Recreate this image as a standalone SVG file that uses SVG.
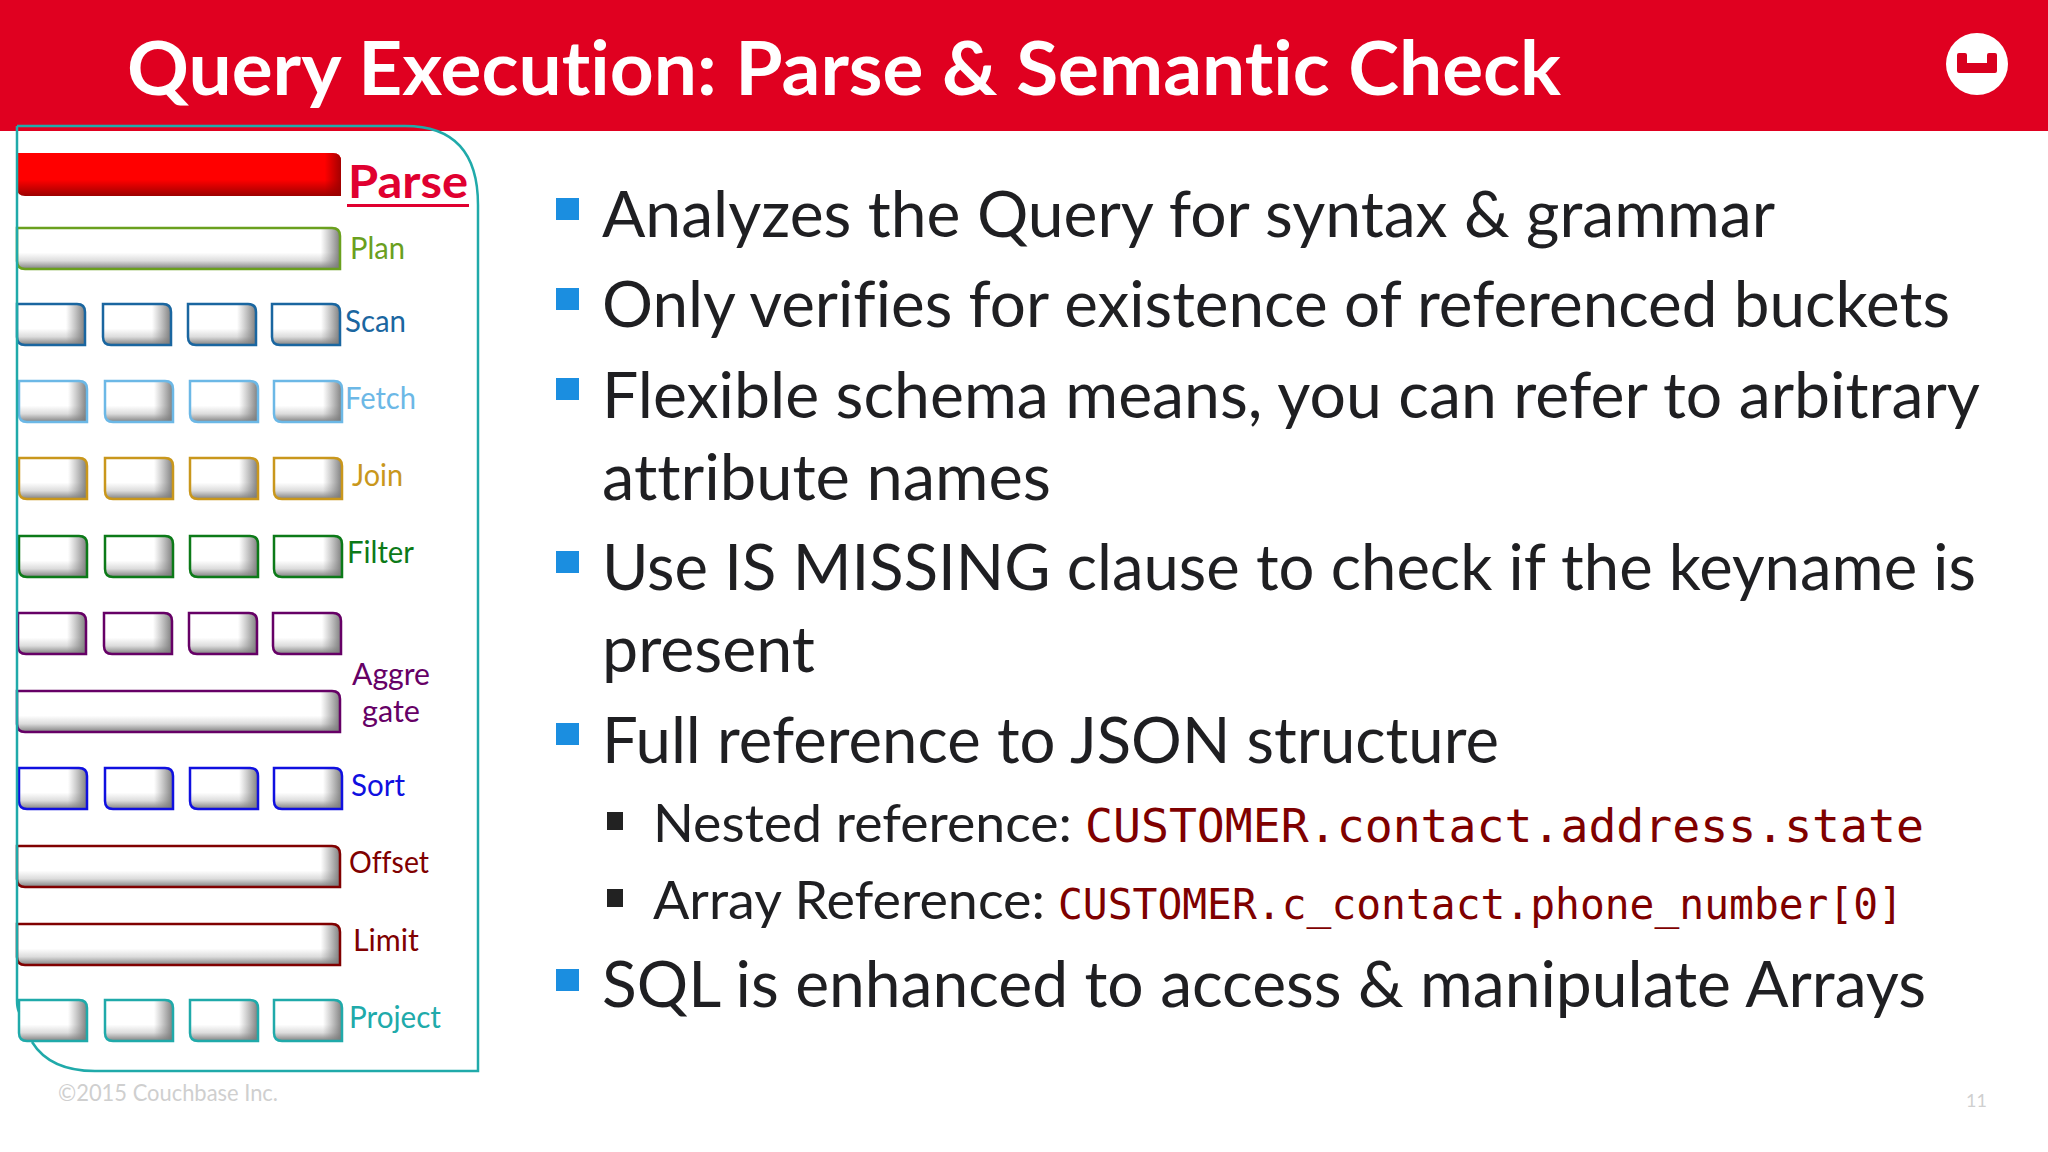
<svg xmlns="http://www.w3.org/2000/svg" width="2048" height="1152" viewBox="0 0 2048 1152">
<style>
text{font-variant-ligatures:none}
.b{font-family:Lato,"Open Sans",sans-serif;font-size:63px;fill:#1f1f22}
.s{font-family:Lato,"Open Sans",sans-serif;font-size:52px;fill:#1f1f22}
.m{font-family:"DejaVu Sans Mono","Liberation Mono",monospace;fill:#7f0000}
.l{font-family:Lato,"Open Sans",sans-serif;font-size:30px}
.bu{fill:#1b8ee0}
.sb{fill:#222}
.o{fill:none;stroke:currentColor;stroke-width:2.5}
</style>
<defs>
<linearGradient id="v" x1="0" y1="0" x2="0" y2="1"><stop offset="0" stop-color="#fff"/><stop offset=".6" stop-color="#fff"/><stop offset=".8" stop-color="#dcdcdc"/><stop offset="1" stop-color="#808080"/></linearGradient>
<linearGradient id="hs" x1="0" y1="0" x2="1" y2="0"><stop offset=".72" stop-color="#888" stop-opacity="0"/><stop offset="1" stop-color="#777" stop-opacity=".95"/></linearGradient>
<linearGradient id="hl" x1="0" y1="0" x2="1" y2="0"><stop offset=".94" stop-color="#888" stop-opacity="0"/><stop offset="1" stop-color="#777" stop-opacity=".95"/></linearGradient>
<linearGradient id="rv" x1="0" y1="0" x2="0" y2="1"><stop offset="0" stop-color="#f00"/><stop offset=".62" stop-color="#f00"/><stop offset="1" stop-color="#9c0000"/></linearGradient>
<linearGradient id="rh" x1="0" y1="0" x2="1" y2="0"><stop offset=".95" stop-color="#900" stop-opacity="0"/><stop offset="1" stop-color="#900" stop-opacity=".9"/></linearGradient>
<path id="ps" d="M0 0H60Q68 0 68 8V41H8Q0 41 0 33Z"/>
<path id="pl" d="M0 0H315Q323 0 323 8V41H8Q0 41 0 33Z"/>
<g id="small"><use href="#ps" fill="url(#v)"/><use href="#ps" fill="url(#hs)"/><use href="#ps" class="o"/></g>
<g id="long"><use href="#pl" fill="url(#v)"/><use href="#pl" fill="url(#hl)"/><use href="#pl" class="o"/></g>
</defs>
<rect width="2048" height="1152" fill="#fff"/>
<g id="header">
<rect width="2048" height="131" fill="#e00020"/>
<text x="127" y="95" font-family="Lato,'Open Sans',sans-serif" font-weight="700" font-size="75" fill="#fff" textLength="1434" lengthAdjust="spacingAndGlyphs">Query Execution: Parse &amp; Semantic Check</text>
<circle cx="1977" cy="64" r="31" fill="#fff"/>
<path d="M1959 53H1965Q1967 53 1967 55V63H1987V55Q1987 53 1989 53H1995Q1997 53 1997 55V71Q1997 73 1995 73H1959Q1957 73 1957 71V55Q1957 53 1959 53Z" fill="#d9001f"/>
</g>
<g id="connectors"/>
<g id="node-parse">
<path d="M17 153H333Q341 153 341 161V196H25Q17 196 17 188Z" fill="url(#rv)"/>
<path d="M17 153H333Q341 153 341 161V196H25Q17 196 17 188Z" fill="url(#rh)"/>
<text x="348" y="198" font-family="Lato,'Open Sans',sans-serif" font-weight="700" font-size="45" fill="#e00030" textLength="120" lengthAdjust="spacingAndGlyphs">Parse</text>
<rect x="347" y="204" width="122" height="3" fill="#e00030"/>
</g>
<g id="node-plan" color="#6aa01e"><use href="#long" x="17" y="228"/><text class="l" x="350" y="259" fill="#6aa01e" textLength="55" lengthAdjust="spacingAndGlyphs">Plan</text></g>
<g id="node-scan" color="#1a66a0"><use href="#small" x="17" y="304"/><use href="#small" x="103" y="304"/><use href="#small" x="188" y="304"/><use href="#small" x="272" y="304"/><text class="l" x="345" y="332" fill="#1a66a0" textLength="61" lengthAdjust="spacingAndGlyphs">Scan</text></g>
<g id="node-fetch" color="#6cb8e6"><use href="#small" x="19" y="381"/><use href="#small" x="105" y="381"/><use href="#small" x="190" y="381"/><use href="#small" x="274" y="381"/><text class="l" x="345" y="409" fill="#6cb8e6" textLength="71" lengthAdjust="spacingAndGlyphs">Fetch</text></g>
<g id="node-join" color="#c9971c"><use href="#small" x="19" y="458"/><use href="#small" x="105" y="458"/><use href="#small" x="190" y="458"/><use href="#small" x="274" y="458"/><text class="l" x="352" y="486" fill="#c9971c" textLength="51" lengthAdjust="spacingAndGlyphs">Join</text></g>
<g id="node-filter" color="#0c7a18"><use href="#small" x="19" y="536"/><use href="#small" x="105" y="536"/><use href="#small" x="190" y="536"/><use href="#small" x="274" y="536"/><text class="l" x="347" y="563" fill="#0c7a18" textLength="67" lengthAdjust="spacingAndGlyphs">Filter</text></g>
<g id="node-aggregate" color="#660066"><use href="#small" x="18" y="613"/><use href="#small" x="104" y="613"/><use href="#small" x="189" y="613"/><use href="#small" x="273" y="613"/><use href="#long" x="17" y="691"/><text class="l" x="352" y="685" fill="#660066" textLength="78" lengthAdjust="spacingAndGlyphs">Aggre</text><text class="l" x="362" y="722" fill="#660066" textLength="58" lengthAdjust="spacingAndGlyphs">gate</text></g>
<g id="node-sort" color="#1010e0"><use href="#small" x="19" y="768"/><use href="#small" x="105" y="768"/><use href="#small" x="190" y="768"/><use href="#small" x="274" y="768"/><text class="l" x="351" y="796" fill="#1010e0" textLength="54" lengthAdjust="spacingAndGlyphs">Sort</text></g>
<g id="node-offset" color="#800000"><use href="#long" x="17" y="846"/><text class="l" x="349" y="873" fill="#800000" textLength="80" lengthAdjust="spacingAndGlyphs">Offset</text></g>
<g id="node-limit" color="#800000"><use href="#long" x="17" y="924"/><text class="l" x="353" y="951" fill="#800000" textLength="66" lengthAdjust="spacingAndGlyphs">Limit</text></g>
<g id="node-project" color="#20aaaa"><use href="#small" x="19" y="1000"/><use href="#small" x="105" y="1000"/><use href="#small" x="190" y="1000"/><use href="#small" x="274" y="1000"/><text class="l" x="349" y="1028" fill="#20aaaa" textLength="92" lengthAdjust="spacingAndGlyphs">Project</text></g>
<g id="frame"><path d="M17 126H405Q478 126 478 205V1071H95Q50 1071 32 1042M17 1000V126" fill="none" stroke="#20aaaa" stroke-width="2.5"/><path d="M17 1000Q17 1008 19 1012" fill="none" stroke="#20aaaa" stroke-width="2.5"/></g>
<g id="bullets">
<rect class="bu" x="556" y="198" width="23" height="22"/><text class="b" x="602" y="237" textLength="1173" lengthAdjust="spacingAndGlyphs">Analyzes the Query for syntax &amp; grammar</text>
<rect class="bu" x="556" y="288" width="23" height="22"/><text class="b" x="602" y="327" textLength="1348" lengthAdjust="spacingAndGlyphs">Only verifies for existence of referenced buckets</text>
<rect class="bu" x="556" y="378" width="23" height="22"/><text class="b" x="602" y="418" textLength="1378" lengthAdjust="spacingAndGlyphs">Flexible schema means, you can refer to arbitrary</text>
<text class="b" x="602" y="500" textLength="449" lengthAdjust="spacingAndGlyphs">attribute names</text>
<rect class="bu" x="556" y="551" width="23" height="22"/><text class="b" x="602" y="590" textLength="1374" lengthAdjust="spacingAndGlyphs">Use IS MISSING clause to check if the keyname is</text>
<text class="b" x="602" y="672" textLength="213" lengthAdjust="spacingAndGlyphs">present</text>
<rect class="bu" x="556" y="723" width="23" height="22"/><text class="b" x="602" y="763" textLength="897" lengthAdjust="spacingAndGlyphs">Full reference to JSON structure</text>
<rect class="sb" x="607" y="812" width="16" height="18"/><text class="s" x="653" y="842" textLength="419" lengthAdjust="spacingAndGlyphs">Nested reference:</text><text class="m" x="1085" y="842" font-size="47" textLength="839" lengthAdjust="spacingAndGlyphs">CUSTOMER.contact.address.state</text>
<rect class="sb" x="607" y="889" width="16" height="18"/><text class="s" x="653" y="919" textLength="392" lengthAdjust="spacingAndGlyphs">Array Reference:</text><text class="m" x="1058" y="919" font-size="42" textLength="845" lengthAdjust="spacingAndGlyphs">CUSTOMER.c_contact.phone_number[0]</text>
<rect class="bu" x="556" y="969" width="23" height="22"/><text class="b" x="602" y="1007" textLength="1324" lengthAdjust="spacingAndGlyphs">SQL is enhanced to access &amp; manipulate Arrays</text>
</g>
<g id="footer">
<text x="58" y="1101" font-family="Lato,sans-serif" font-size="24" fill="#cfcfcf" textLength="220" lengthAdjust="spacingAndGlyphs">©2015 Couchbase Inc.</text>
<text x="1966" y="1107" font-family="Lato,sans-serif" font-size="18" fill="#cfcfcf" textLength="21">11</text>
</g>
</svg>
